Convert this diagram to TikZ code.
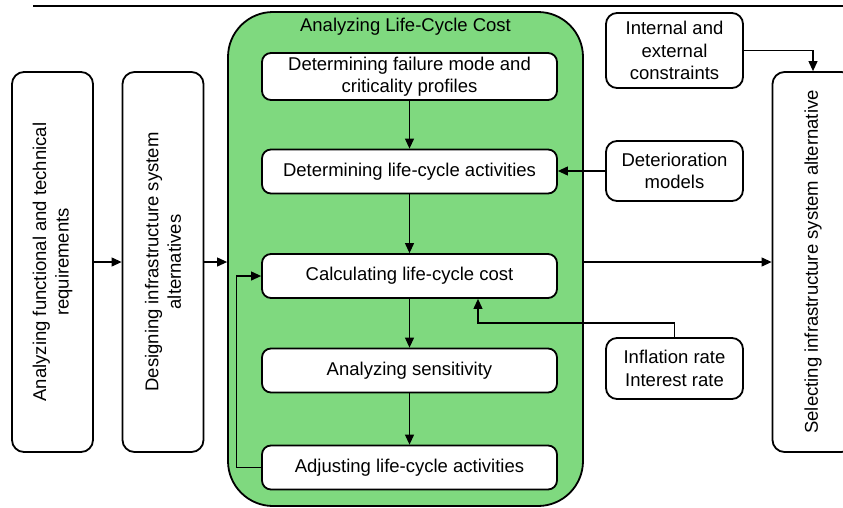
\documentclass[tikz,border=0pt]{standalone}
\usepackage{fontspec}
\setmainfont{Liberation Sans}
\usetikzlibrary{arrows.meta}
\definecolor{lccgreen}{RGB}{127,217,127}
\begin{document}
\begin{tikzpicture}
[x=1pt,y=-1pt,
 every node/.style={font=\fontsize{18.5}{22.5}\selectfont,align=center,inner sep=2pt},
 step box/.style={draw,line width=1.8pt,rounded corners=9pt,fill=white,
                  minimum width=295pt,minimum height=44pt},
 side box/.style={draw,line width=1.8pt,rounded corners=11pt,fill=white,
                  minimum width=137pt},
 phase box/.style={draw,line width=1.8pt,rounded corners=12pt,fill=white,
                   rotate=90,minimum width=380pt,minimum height=81pt},
 link/.style={line width=1.1pt,-{Triangle[length=10pt,width=9pt]}}]
\useasboundingbox (0,0) rectangle (843,507);
\draw[line width=1.8pt] (33,6) -- (843,6);
% main phases
\node[phase box] (req) at (52.5,262) {Analyzing functional and technical\\requirements};
\node[phase box] (des) at (163,262) {Designing infrastructure system\\alternatives};
\node[phase box] (sel) at (813,262) {Selecting infrastructure system alternative};
% life-cycle cost block
\node[draw,line width=1.8pt,fill=lccgreen,rounded corners=45pt,
      minimum width=355pt,minimum height=494pt] (lcc) at (405.5,259) {};
\node (lcctitle) at (405.5,27) {Analyzing Life-Cycle Cost};
\node[step box,minimum height=47pt] (fail) at (409.5,76.5)
  {Determining failure mode and\\criticality profiles};
\node[step box] (act) at (409.5,171.5) {Determining life-cycle activities};
\node[step box] (cost) at (409.5,276) {Calculating life-cycle cost};
\node[step box] (sens) at (409.5,370.5) {Analyzing sensitivity};
\node[step box] (adj) at (409.5,467.5) {Adjusting life-cycle activities};
% inputs
\node[side box,minimum height=75pt] (cons) at (674.5,50.5)
  {Internal and\\external\\constraints};
\node[side box,minimum height=60pt] (det) at (674.5,171) {Deterioration\\models};
\node[side box,minimum height=61pt] (rate) at (674.5,368.5) {Inflation rate\\Interest rate};
\coordinate (ratebend) at (478,323);
% connectors
\draw[link] (req.south) -- (des.north);
\draw[link] (des.south) -- (des.south -| lcc.west);
\draw[link] (lcc.east |- sel.center) -- (sel.north);
\draw[link] (cons.east) -| (sel.east);
\draw[link] (fail) -- (act);
\draw[link] (act) -- (cost);
\draw[link] (cost) -- (sens);
\draw[link] (sens) -- (adj);
\draw[link] (det.west) -- (det.west -| act.east);
\draw[link] (rate.north) |- (ratebend) -- (ratebend |- cost.south);
\draw[link] (adj.west) -- ++(-25,0) |- (cost.west);
\end{tikzpicture}
\end{document}
